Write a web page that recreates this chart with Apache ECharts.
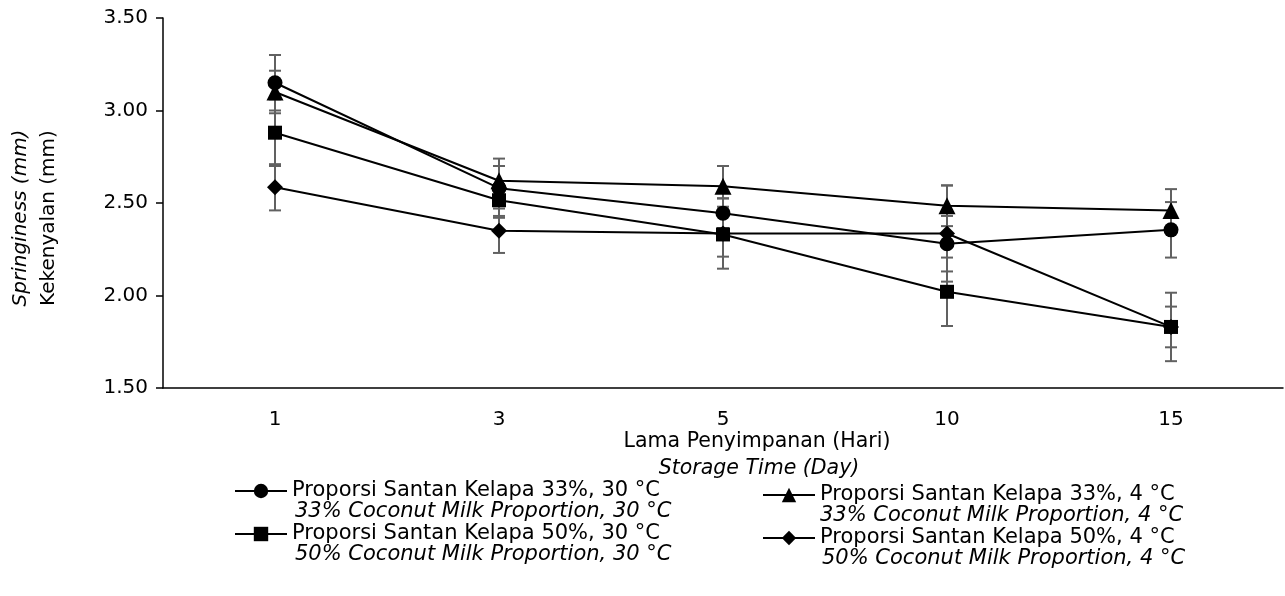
<!DOCTYPE html>
<html>
<head>
<meta charset="utf-8">
<script src="https://cdn.jsdelivr.net/npm/echarts@6/dist/echarts.min.js"></script>
<style>html,body{margin:0;padding:0;background:#fff;}#c{width:1285px;height:596px;}</style>
</head>
<body>
<div id="c"></div>
<script>
const days = ['1', '3', '5', '10', '15'];
const yTicks = [1.5, 2.0, 2.5, 3.0, 3.5];
const names = ['Proporsi Santan Kelapa 33%, 30 °C', 'Proporsi Santan Kelapa 33%, 4 °C', 'Proporsi Santan Kelapa 50%, 30 °C', 'Proporsi Santan Kelapa 50%, 4 °C'];
const namesEn = ['33% Coconut Milk Proportion, 30 °C', '33% Coconut Milk Proportion, 4 °C', '50% Coconut Milk Proportion, 30 °C', '50% Coconut Milk Proportion, 4 °C'];
const s33_30 = [3.15, 2.58, 2.445, 2.28, 2.355];
const e33_30 = [0.15, 0.16, 0.08, 0.15, 0.15];
const s33_4 = [3.10, 2.62, 2.59, 2.485, 2.46];
const e33_4 = [0.115, 0.08, 0.11, 0.11, 0.115];
const s50_30 = [2.88, 2.515, 2.33, 2.02, 1.83];
const e50_30 = [0.18, 0.085, 0.12, 0.185, 0.185];
const s50_4 = [2.585, 2.35, 2.335, 2.335, 1.83];
const e50_4 = [0.125, 0.12, 0.19, 0.26, 0.11];

const FONT = '"DejaVu Sans", sans-serif';
const vals = [s33_30, s33_4, s50_30, s50_4];
const errs = [e33_30, e33_4, e50_30, e50_4];
const symbols = ['circle', 'triangle', 'rect', 'diamond'];
const symSizes = [15, 17, 14, 16];

const chart = echarts.init(document.getElementById('c'), null, {renderer: 'canvas'});

function errRender(params, api) {
  const x = api.value(0), lo = api.value(1), hi = api.value(2);
  const pt = api.coord([x, hi]), pb = api.coord([x, lo]);
  const w = 6;
  const st = {stroke: '#616161', lineWidth: 2};
  return {type: 'group', children: [
    {type: 'line', shape: {x1: pt[0], y1: pt[1], x2: pb[0], y2: pb[1]}, style: st},
    {type: 'line', shape: {x1: pt[0] - w, y1: pt[1], x2: pt[0] + w, y2: pt[1]}, style: st},
    {type: 'line', shape: {x1: pb[0] - w, y1: pb[1], x2: pb[0] + w, y2: pb[1]}, style: st}
  ]};
}

const series = [];
vals.forEach((v, k) => {
  series.push({
    type: 'custom', name: names[k] + ' err', renderItem: errRender, z: 1,
    encode: {x: 0, y: [1, 2]},
    data: v.map((y, i) => [i, y - errs[k][i], y + errs[k][i]]),
    silent: true
  });
});
vals.forEach((v, k) => {
  series.push({
    type: 'line', name: names[k], data: v, z: 3,
    symbol: symbols[k], symbolSize: symSizes[k], showAllSymbol: true,
    lineStyle: {color: '#000', width: 2},
    itemStyle: {color: '#000', borderColor: '#000', borderWidth: 0},
    animation: false
  });
});

const legendBase = {
  orient: 'vertical', itemWidth: 52, itemHeight: 18, itemGap: 0,
  padding: 0,
  textStyle: {fontFamily: FONT, fontSize: 21, color: '#000', lineHeight: 22},
  selectedMode: false
};
const legendPos = [[234, 480], [762, 484], [234, 523], [762, 527]];
const legends = names.map((n, k) => Object.assign({}, legendBase, {
  data: [n], left: legendPos[k][0], top: legendPos[k][1]
}));

const enPos = [[295, 512], [820, 516], [295, 555], [822, 559]];
const graphics = [
  {type: 'text', x: 21, y: 218, rotation: Math.PI / 2,
   style: {text: 'Springiness (mm)', fontFamily: FONT, fontSize: 20, fontStyle: 'italic', fill: '#000', align: 'center', verticalAlign: 'middle'}},
  {type: 'text', x: 49, y: 218, rotation: Math.PI / 2,
   style: {text: 'Kekenyalan (mm)', fontFamily: FONT, fontSize: 20, fill: '#000', align: 'center', verticalAlign: 'middle'}},
  {type: 'text', x: 757, y: 442,
   style: {text: 'Lama Penyimpanan (Hari)', fontFamily: FONT, fontSize: 20.5, fill: '#000', align: 'center', verticalAlign: 'middle'}},
  {type: 'text', x: 759, y: 469,
   style: {text: 'Storage Time (Day)', fontFamily: FONT, fontSize: 20.5, fontStyle: 'italic', fill: '#000', align: 'center', verticalAlign: 'middle'}}
];
namesEn.forEach((t, k) => {
  graphics.push({type: 'text', x: enPos[k][0], y: enPos[k][1],
    style: {text: t, fontFamily: FONT, fontSize: 21, fontStyle: 'italic', fill: '#000', align: 'left', verticalAlign: 'middle'}});
});

chart.setOption({
  animation: false,
  backgroundColor: '#fff',
  grid: {left: 163, right: 2, top: 18, bottom: 208, containLabel: false},
  xAxis: {
    type: 'category', data: days, boundaryGap: true,
    axisLine: {lineStyle: {color: '#000', width: 1.5}},
    axisTick: {alignWithLabel: true, length: 7, lineStyle: {color: '#000', width: 1.5}},
    axisLabel: {color: '#000', fontFamily: FONT, fontSize: 20, margin: 22},
    splitLine: {show: false}
  },
  yAxis: {
    type: 'value', min: yTicks[0], max: yTicks[yTicks.length - 1], interval: 0.5,
    axisLine: {show: true, lineStyle: {color: '#000', width: 1.5}},
    axisTick: {show: true, length: 7, lineStyle: {color: '#000', width: 1.5}},
    axisLabel: {color: '#000', fontFamily: FONT, fontSize: 20, margin: 15, formatter: v => v.toFixed(2)},
    splitLine: {show: false}
  },
  legend: legends,
  graphic: graphics,
  series: series
});
</script>
</body>
</html>
